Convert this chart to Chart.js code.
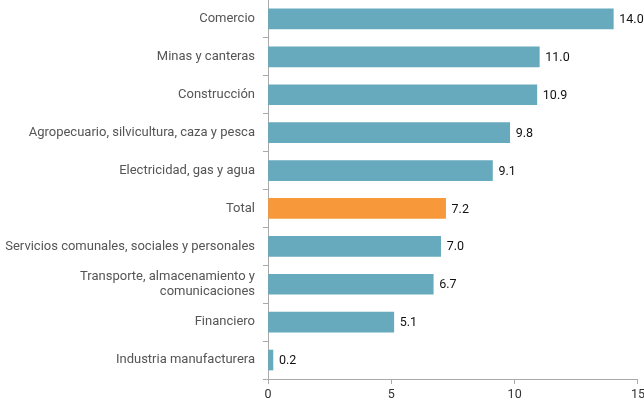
<!DOCTYPE html>
<html>
<head>
<meta charset="utf-8">
<script src="https://cdn.jsdelivr.net/npm/chart.js@4"></script>
<style>
  html, body { margin: 0; padding: 0; background: #fff; overflow: hidden; }
  #wrap { width: 648px; height: 405px; }
</style>
</head>
<body>
<div id="wrap"><canvas id="myChart"></canvas></div>
<script>
const sectores = [
  'Comercio',
  'Minas y canteras',
  'Construcción',
  'Agropecuario, silvicultura, caza y pesca',
  'Electricidad, gas y agua',
  'Total',
  'Servicios comunales, sociales y personales',
  ['Transporte, almacenamiento y', 'comunicaciones'],
  'Financiero',
  'Industria manufacturera',
];
const valores = [14.0, 11.0, 10.9, 9.8, 9.1, 7.2, 7.0, 6.7, 5.1, 0.2];
const ticksX = [0, 5, 10, 15];

const azul = '#67a9bd';
const naranja = '#f7983a';
const colores = sectores.map(s => (s === 'Total' ? naranja : azul));

// etiquetas de valor al final de cada barra
const valueLabels = {
  id: 'valueLabels',
  afterDatasetsDraw(chart) {
    const ctx = chart.ctx;
    const meta = chart.getDatasetMeta(0);
    ctx.save();
    ctx.font = '12.5px Roboto';
    ctx.fillStyle = '#111';
    ctx.textAlign = 'left';
    ctx.textBaseline = 'middle';
    meta.data.forEach((bar, i) => {
      ctx.fillText(valores[i].toFixed(1), bar.x + 6, bar.y + 1);
    });
    ctx.restore();
  },
};

const config = {
  type: 'bar',
  data: {
    labels: sectores,
    datasets: [
      {
        data: valores,
        backgroundColor: colores,
        barThickness: 20,
      },
    ],
  },
  options: {
    indexAxis: 'y',
    responsive: true,
    maintainAspectRatio: false,
    animation: false,
    layout: { padding: { top: 0, left: 0, right: 0, bottom: 0 } },
    plugins: {
      legend: { display: false },
      tooltip: { enabled: false },
    },
    scales: {
      x: {
        min: 0,
        max: 15,
        afterBuildTicks: (s) => { s.ticks = ticksX.map(v => ({ value: v })); },
        grid: { display: true, drawOnChartArea: false, drawTicks: true, tickLength: 5, color: '#aaa' },
        border: { color: '#aaa' },
        ticks: { color: '#333', font: { family: 'Roboto', size: 12.5 }, padding: 3 },
      },
      y: {
        afterFit: (s) => {
          s.width = 268;
          s.paddingTop = 0;
          s.paddingBottom = 0;
        },
        grid: { display: true, drawOnChartArea: false, drawTicks: true, tickLength: 5, color: '#aaa', offset: true },
        border: { color: '#aaa' },
        ticks: { color: '#555', font: { family: 'Roboto', size: 13 }, padding: 8 },
      },
    },
  },
  plugins: [valueLabels],
};

const myChart = new Chart(document.getElementById('myChart'), config);
</script>
</body>
</html>
